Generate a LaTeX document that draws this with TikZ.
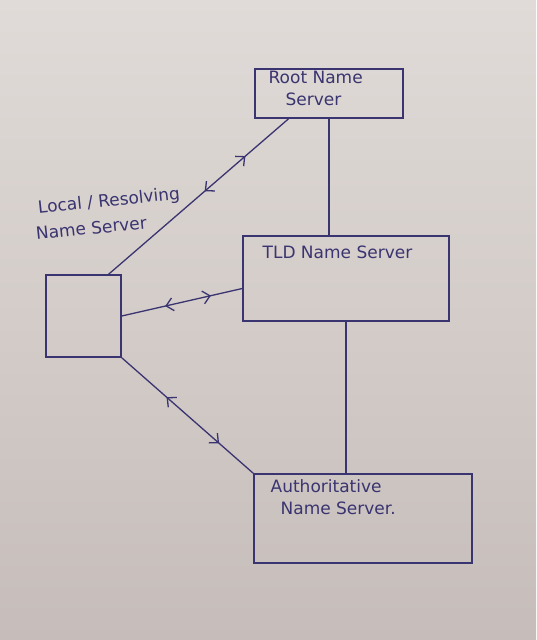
\documentclass[tikz,border=0pt]{standalone}
\usepackage{fontspec}
\setmainfont{DejaVu Sans}
\usetikzlibrary{arrows.meta,decorations.markings,calc}
\definecolor{ink}{RGB}{58,52,112}
\definecolor{papertop}{RGB}{224,219,216}
\definecolor{paperbot}{RGB}{198,189,186}
\tikzset{
	box/.style={draw=ink, line width=1.5pt, rectangle, inner sep=0pt},
	lbl/.style={text=ink, anchor=base west, inner sep=0pt, font=\fontsize{17}{20}\selectfont},
	twoway/.style 2 args={postaction={decorate}, decoration={markings,
		mark=at position #1 with {\arrow{<}},
		mark=at position #2 with {\arrow{>}}}}
}
\begin{document}
\begin{tikzpicture}[x=1pt, y=-1pt, >={Straight Barb[length=7pt,width=13pt]}, line width=1.3pt, color=ink]
	\shade[top color=papertop, bottom color=paperbot] (0,0) rectangle (536,640);
	\useasboundingbox (0,0) rectangle (536,640);
	\node[box, minimum width=148pt, minimum height=49pt] (root) at (329,93.5) {};
	\node[box, minimum width=206pt, minimum height=85pt] (tld) at (346,278.5) {};
	\node[box, minimum width=218pt, minimum height=89pt] (auth) at (363,518.5) {};
	\node[box, minimum width=75pt, minimum height=82pt] (local) at (83.5,316) {};
	\node[lbl] (rootA) at (268,83) {Root Name};
	\node[lbl] (rootB) at (285,105) {Server};
	\node[lbl] (tldA) at (262,258) {TLD Name Server};
	\node[lbl] (authA) at (270,492) {Authoritative};
	\node[lbl] (authB) at (280,514) {Name Server.};
	\node[lbl, rotate=6] (localA) at (38,214) {Local / Resolving};
	\node[lbl, rotate=6] (localB) at (36,240) {Name Server};
	\draw[twoway={0.57}{0.76}] (local.59) -- (root.212);
	\draw (root.south) -- (root.south |- tld.north);
	\draw[twoway={0.43}{0.74}] (local.east) -- ($(tld.west)+(0,10)$);
	\draw[twoway={0.39}{0.74}] (local.south east) -- (auth.north west);
	\draw (tld.south) -- (tld.south |- auth.north);
\end{tikzpicture}
\end{document}
